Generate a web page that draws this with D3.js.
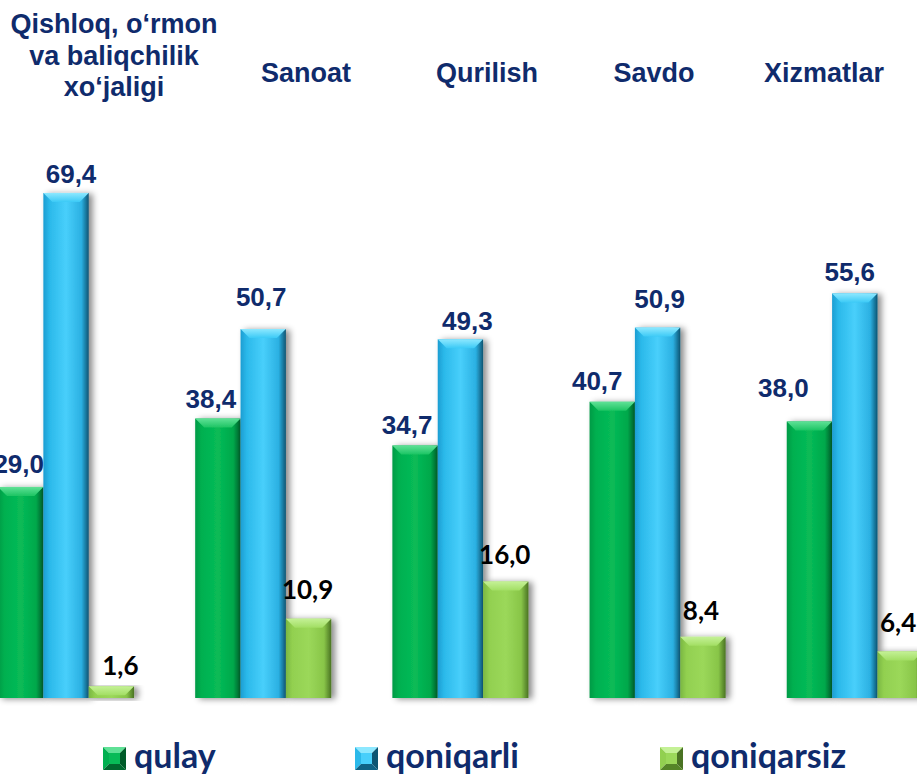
<!DOCTYPE html>
<html>
<head>
<meta charset="utf-8">
<script src="https://cdn.jsdelivr.net/npm/d3@7/dist/d3.min.js"></script>
<style>
  html, body { margin: 0; padding: 0; background: #ffffff; }
  svg { display: block; }
</style>
</head>
<body>
<script>
// Sectors and their shares (%) by assessment of the business environment
const categories = [
  ["Qishloq, o\u2018rmon", "va baliqchilik", "xo\u2018jaligi"],
  ["Sanoat"],
  ["Qurilish"],
  ["Savdo"],
  ["Xizmatlar"]
];
const seriesNames = ["qulay", "qoniqarli", "qoniqarsiz"];
const qulay      = [29.0, 38.4, 34.7, 40.7, 38.0];
const qoniqarli  = [69.4, 50.7, 49.3, 50.9, 55.6];
const qoniqarsiz = [1.6, 10.9, 16.0, 8.4, 6.4];
const seriesValues = [qulay, qoniqarli, qoniqarsiz];

// ---- layout ----
const W = 917, H = 774;
const baseY = 698;
const navy = "#0f2b6c";
const labelCenterX = [114, 306, 487, 654, 824];     // category heading centres
const legendX = [103, 355, 660];                     // legend swatch left edges
// small hand placement of value labels: [dx, gap above bar]
const valueNudge = [
  [[-2, 14], [-7, 11], [-8, 11], [-15, 12], [-26, 24]],
  [[5, 10], [-2, 23], [7, 9], [2, 20], [-5, 12]],
  [[9, 11], [-1, 20], [-1, 18], [-2, 17], [-2, 19]]
];

const palette = [
  { top: ["#5fe196", "#1dc463"], body: ["#009a45", "#00b050", "#08bb57", "#00a84b", "#005b29"] },
  { top: ["#8de8ff", "#3ccaf6"], body: ["#1c9dd2", "#2bb9ea", "#48cffb", "#2bb0e2", "#0d5573"] },
  { top: ["#c4f196", "#a2de63"], body: ["#7ab742", "#92d050", "#9bd85a", "#88c548", "#4a7323"] }
];

const svg = d3.select("body").append("svg")
  .attr("width", W).attr("height", H)
  .attr("viewBox", `0 0 ${W} ${H}`);

const defs = svg.append("defs");
palette.forEach((p, i) => {
  const g = defs.append("linearGradient").attr("id", "body" + i)
    .attr("x1", 0).attr("x2", 1).attr("y1", 0).attr("y2", 0);
  [0, 0.14, 0.5, 0.84, 1].forEach((o, k) =>
    g.append("stop").attr("offset", o).attr("stop-color", p.body[k]));
  const t = defs.append("linearGradient").attr("id", "top" + i)
    .attr("x1", 0).attr("x2", 0).attr("y1", 0).attr("y2", 1);
  t.append("stop").attr("offset", 0).attr("stop-color", p.top[0]);
  t.append("stop").attr("offset", 1).attr("stop-color", p.top[1]);
});
const f = defs.append("filter").attr("id", "shadow")
  .attr("x", "-20%").attr("y", "-10%").attr("width", "160%").attr("height", "130%");
f.append("feDropShadow").attr("dx", 4).attr("dy", 1).attr("stdDeviation", 3)
  .attr("flood-color", "#000").attr("flood-opacity", 0.45);

// scales
const x0 = d3.scaleBand()
  .domain(d3.range(categories.length))
  .range([-2, 922.8])
  .paddingInner(0.31)
  .paddingOuter(0);
const x1 = d3.scaleBand()
  .domain(d3.range(seriesNames.length))
  .range([0, x0.bandwidth()]);
const y = d3.scaleLinear().domain([0, 80]).range([baseY, baseY - 80 * 7.277]);

// bars
const bev = 9;
seriesValues.forEach((vals, s) => {
  const g = svg.append("g").attr("class", "series-" + s);
  vals.forEach((v, i) => {
    const bx = x0(i) + x1(s), bw = x1.bandwidth();
    const by = y(v), bh = baseY - by;
    const bar = g.append("g").attr("filter", "url(#shadow)");
    bar.append("rect").attr("x", bx).attr("y", by).attr("width", bw).attr("height", bh)
      .attr("fill", `url(#body${s})`);
    const d = Math.min(bev, bh);
    bar.append("path")
      .attr("d", `M${bx},${by}L${bx + bw},${by}L${bx + bw - d},${by + d}L${bx + d},${by + d}Z`)
      .attr("fill", `url(#top${s})`);
  });
});

// value labels
seriesValues.forEach((vals, s) => {
  vals.forEach((v, i) => {
    const cx = x0(i) + x1(s) + x1.bandwidth() / 2;
    const [dx, gap] = valueNudge[s][i];
    svg.append("text")
      .attr("x", cx + dx).attr("y", y(v) - gap)
      .attr("text-anchor", "middle")
      .attr("font-family", s === 2 ? "Lato, 'Open Sans', sans-serif" : "'Liberation Sans', Arial, sans-serif")
      .attr("font-weight", "bold")
      .attr("font-size", s === 2 ? 26 : 26)
      .attr("fill", s === 2 ? "#000000" : navy)
      .text(d3.format(".1f")(v).replace(".", ","));
  });
});

// category headings
categories.forEach((lines, i) => {
  const t = svg.append("text")
    .attr("text-anchor", "middle")
    .attr("font-family", "'Liberation Sans', Arial, sans-serif")
    .attr("font-weight", "bold")
    .attr("font-size", 27)
    .attr("fill", navy);
  const startY = lines.length > 1 ? 33 : 82;
  lines.forEach((ln, k) => {
    t.append("tspan").attr("x", labelCenterX[i]).attr("y", startY + k * 31.5).text(ln);
  });
});

// legend
const sw = 23, legY = 747;
seriesNames.forEach((name, s) => {
  const lx = legendX[s];
  const p = palette[s];
  const g = svg.append("g");
  const c = [lx + sw / 2, legY + sw / 2];
  const inset = 6;
  const pts = {
    tl: [lx, legY], tr: [lx + sw, legY], br: [lx + sw, legY + sw], bl: [lx, legY + sw],
    itl: [lx + inset, legY + inset], itr: [lx + sw - inset, legY + inset],
    ibr: [lx + sw - inset, legY + sw - inset], ibl: [lx + inset, legY + sw - inset]
  };
  const poly = (arr, fill) => g.append("path")
    .attr("d", "M" + arr.map(q => q.join(",")).join("L") + "Z").attr("fill", fill);
  poly([pts.tl, pts.tr, pts.itr, pts.itl], p.top[0]);
  poly([pts.tl, pts.itl, pts.ibl, pts.bl], p.body[1]);
  poly([pts.tr, pts.br, pts.ibr, pts.itr], p.body[4]);
  poly([pts.bl, pts.ibl, pts.ibr, pts.br], d3.color(p.body[4]).brighter(0.4));
  poly([pts.itl, pts.itr, pts.ibr, pts.ibl], p.body[2]);
  svg.append("text")
    .attr("x", lx + sw + 8).attr("y", 768)
    .attr("font-family", "Lato, 'Open Sans', sans-serif")
    .attr("font-weight", "bold")
    .attr("font-size", 34)
    .attr("fill", navy)
    .text(name);
});
</script>
</body>
</html>
